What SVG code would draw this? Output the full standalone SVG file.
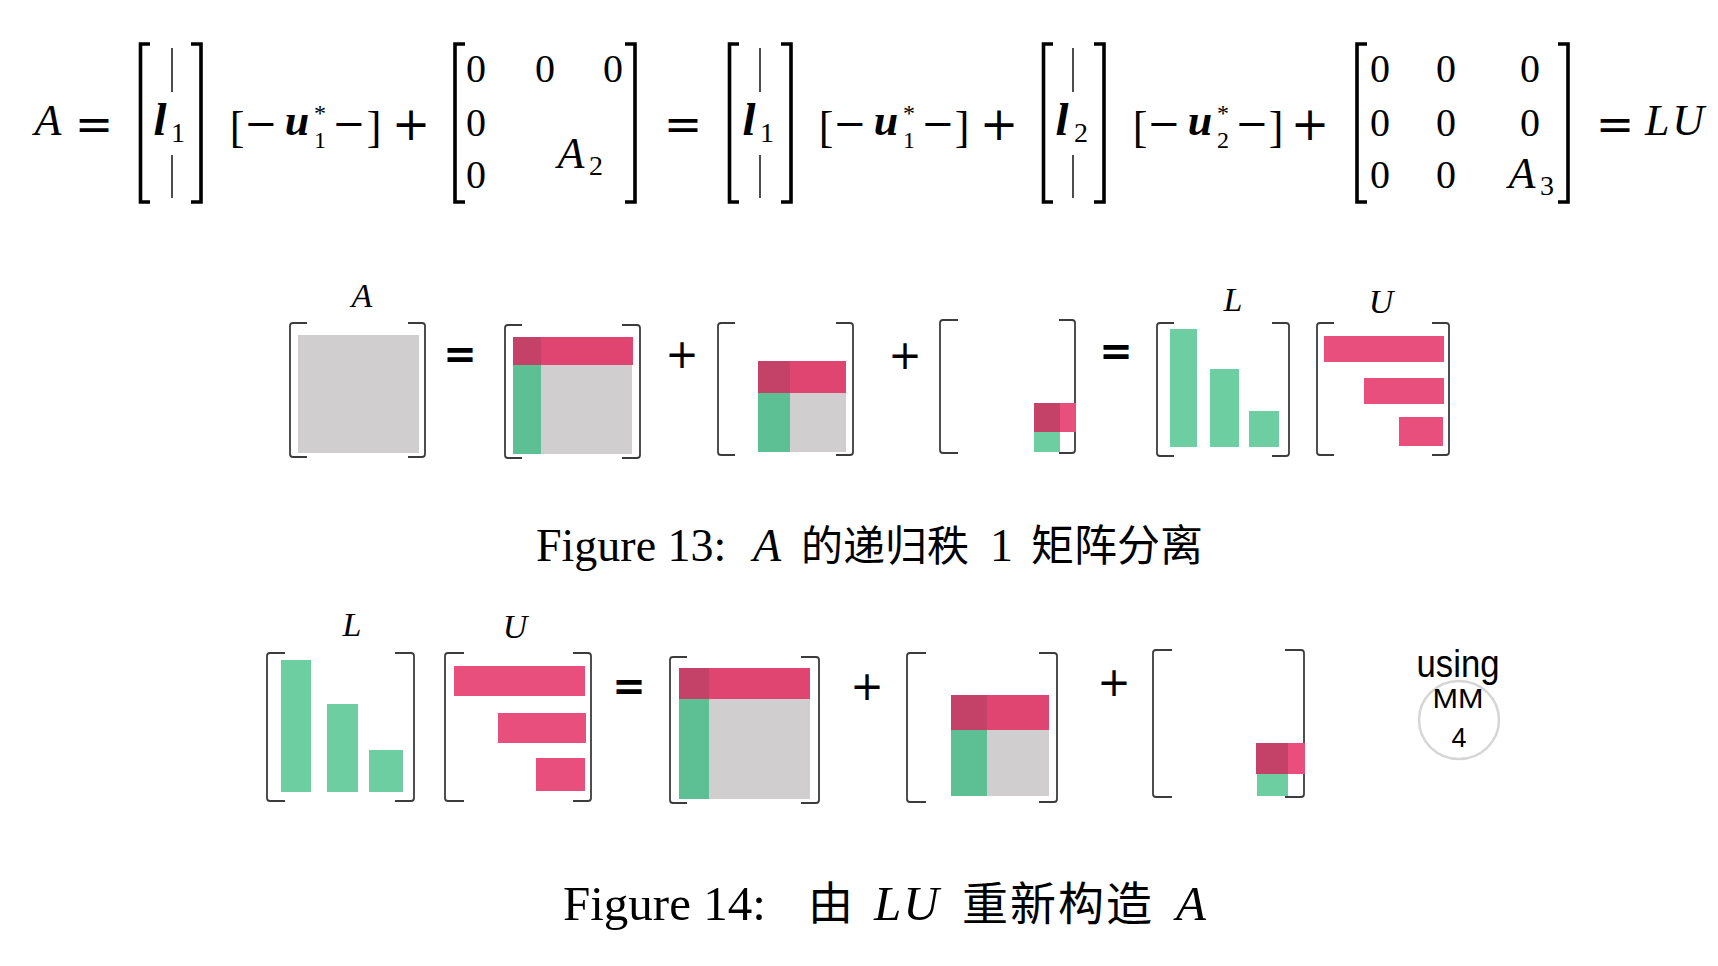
<svg xmlns="http://www.w3.org/2000/svg" width="1718" height="966" viewBox="0 0 1718 966">
<style>
.m{font-family:'Liberation Serif',serif;font-size:40px;fill:#000;text-anchor:middle}
.mi{font-style:italic;font-size:44px}
.bi{font-style:italic;font-weight:bold;font-size:44px}
.lg{font-size:47px}
.sub{font-size:28px;font-style:normal;font-weight:normal}
.ss{font-size:24px;font-style:normal;font-weight:normal}
.bk{font-size:44px}
.mn{font-family:'DejaVu Serif',serif;font-size:40px}
.op{font-family:'DejaVu Serif',serif;font-size:46px;fill:#000;text-anchor:middle}
.tb{fill:none;stroke:#000;stroke-width:3.6}
.bar{stroke:#000;stroke-width:1.4}
.br{fill:none;stroke:#3c3c3c;stroke-width:1.8}
.gray{fill:#d0cece}
.pk{fill:#e04571}
.pkp{fill:#e84f7d}
.dk{fill:#c44168}
.gr{fill:#5dbf94}
.grp{fill:#6dcea2}
.lab{font-family:'Liberation Serif',serif;font-style:italic;font-size:34px;fill:#000;text-anchor:middle}
.sop{font-family:'DejaVu Sans',sans-serif;font-size:40px;fill:#000;text-anchor:middle}
.seq{font-weight:bold}
.cap{font-family:'Liberation Serif','Noto Sans CJK SC',serif;fill:#000}
.cjk{font-family:'Noto Sans CJK SC',sans-serif;fill:#000}
.sans{font-family:'Liberation Sans',sans-serif;fill:#000;text-anchor:middle}
</style>
<rect x="0" y="0" width="1718" height="966" fill="#fff"/>

<g id="equation">
  <text class="m mi" x="48" y="135">A</text>
  <text class="op" x="94" y="140">=</text>
  <g id="col-l1-a">
    <path class="tb" d="M150,44 H140.5 V202 H150"/>
    <path class="tb" d="M191,44 H201 V202 H191"/>
    <line class="bar" x1="172" y1="48" x2="172" y2="92"/>
    <line class="bar" x1="172" y1="155" x2="172" y2="198"/>
    <text class="m"><tspan class="bi lg" x="160" y="135">l</tspan><tspan class="sub" x="178" y="142">1</tspan></text>
  </g>
  <g id="row-u1-a">
    <text class="m"><tspan class="bk" x="237" y="142">[</tspan><tspan class="mn" x="261" y="137">−</tspan><tspan class="bi" x="297" y="135">u</tspan><tspan class="ss" x="320" y="121">*</tspan><tspan class="ss" x="320" y="148">1</tspan><tspan class="mn" x="349" y="137">−</tspan><tspan class="bk" x="374" y="142">]</tspan></text>
  </g>
  <text class="op" x="411" y="140">+</text>
  <g id="mat-a2">
    <path class="tb" d="M465,44 H455 V202 H465"/>
    <path class="tb" d="M625,44 H635 V202 H625"/>
    <text class="m" x="476" y="82">0</text>
    <text class="m" x="545" y="82">0</text>
    <text class="m" x="613" y="82">0</text>
    <text class="m" x="476" y="136">0</text>
    <text class="m" x="476" y="188">0</text>
    <text class="m"><tspan class="mi" x="571" y="168">A</tspan><tspan class="sub" x="596" y="175">2</tspan></text>
  </g>
  <text class="op" x="683" y="140">=</text>
  <g id="col-l1-b">
    <path class="tb" d="M739,44 H729.5 V202 H739"/>
    <path class="tb" d="M781,44 H791 V202 H781"/>
    <line class="bar" x1="760" y1="48" x2="760" y2="92"/>
    <line class="bar" x1="760" y1="155" x2="760" y2="198"/>
    <text class="m"><tspan class="bi lg" x="749" y="135">l</tspan><tspan class="sub" x="767" y="142">1</tspan></text>
  </g>
  <g id="row-u1-b">
    <text class="m"><tspan class="bk" x="826" y="142">[</tspan><tspan class="mn" x="850" y="137">−</tspan><tspan class="bi" x="886" y="135">u</tspan><tspan class="ss" x="909" y="121">*</tspan><tspan class="ss" x="909" y="148">1</tspan><tspan class="mn" x="938" y="137">−</tspan><tspan class="bk" x="962" y="142">]</tspan></text>
  </g>
  <text class="op" x="999" y="140">+</text>
  <g id="col-l2">
    <path class="tb" d="M1053,44 H1043.5 V202 H1053"/>
    <path class="tb" d="M1094,44 H1104 V202 H1094"/>
    <line class="bar" x1="1073" y1="48" x2="1073" y2="92"/>
    <line class="bar" x1="1073" y1="155" x2="1073" y2="198"/>
    <text class="m"><tspan class="bi lg" x="1062" y="135">l</tspan><tspan class="sub" x="1081" y="142">2</tspan></text>
  </g>
  <g id="row-u2">
    <text class="m"><tspan class="bk" x="1140" y="142">[</tspan><tspan class="mn" x="1164" y="137">−</tspan><tspan class="bi" x="1200" y="135">u</tspan><tspan class="ss" x="1223" y="121">*</tspan><tspan class="ss" x="1223" y="148">2</tspan><tspan class="mn" x="1252" y="137">−</tspan><tspan class="bk" x="1276" y="142">]</tspan></text>
  </g>
  <text class="op" x="1310" y="140">+</text>
  <g id="mat-a3">
    <path class="tb" d="M1367,44 H1357 V202 H1367"/>
    <path class="tb" d="M1558,44 H1568 V202 H1558"/>
    <text class="m" x="1380" y="82">0</text>
    <text class="m" x="1446" y="82">0</text>
    <text class="m" x="1530" y="82">0</text>
    <text class="m" x="1380" y="136">0</text>
    <text class="m" x="1446" y="136">0</text>
    <text class="m" x="1530" y="136">0</text>
    <text class="m" x="1380" y="188">0</text>
    <text class="m" x="1446" y="188">0</text>
    <text class="m"><tspan class="mi" x="1522" y="188">A</tspan><tspan class="sub" x="1547" y="195">3</tspan></text>
  </g>
  <text class="op" x="1615" y="140">=</text>
  <text class="m mi" x="1676" y="135" letter-spacing="3">LU</text>
</g>

<g id="figure13">
  <g id="f13-A">
    <text class="lab" x="362" y="307">A</text>
    <rect class="gray" x="298" y="335" width="121" height="118"/>
    <path class="br" d="M307,323 H293 Q290,323 290,326 V454 Q290,457 293,457 H307"/>
    <path class="br" d="M408,323 H422 Q425,323 425,326 V454 Q425,457 422,457 H408"/>
  </g>
  <text class="sop seq" x="460" y="368">=</text>
  <g id="f13-m1">
    <rect class="gray" x="541" y="365" width="91" height="89"/>
    <rect class="gr" x="513" y="365" width="28" height="89"/>
    <rect class="pk" x="541" y="337" width="92" height="28"/>
    <rect class="dk" x="513" y="337" width="28" height="28"/>
    <path class="br" d="M522,325 H508 Q505,325 505,328 V455 Q505,458 508,458 H522"/>
    <path class="br" d="M622,325 H637 Q640,325 640,328 V455 Q640,458 637,458 H622"/>
  </g>
  <text class="sop" x="682" y="368">+</text>
  <g id="f13-m2">
    <rect class="gray" x="790" y="393" width="56" height="59"/>
    <rect class="gr" x="758" y="393" width="32" height="59"/>
    <rect class="pk" x="790" y="361" width="56" height="32"/>
    <rect class="dk" x="758" y="361" width="32" height="32"/>
    <path class="br" d="M735,323 H721 Q718,323 718,326 V452 Q718,455 721,455 H735"/>
    <path class="br" d="M836,323 H850 Q853,323 853,326 V452 Q853,455 850,455 H836"/>
  </g>
  <text class="sop" x="905" y="369">+</text>
  <g id="f13-m3">
    <path class="br" d="M958,320 H943 Q940,320 940,323 V450 Q940,453 943,453 H958"/>
    <path class="br" d="M1059,320 H1072 Q1075,320 1075,323 V450 Q1075,453 1072,453 H1059"/>
    <rect class="grp" x="1034" y="432" width="26" height="20"/>
    <rect class="pkp" x="1060" y="403" width="16" height="29"/>
    <rect class="dk" x="1034" y="403" width="26" height="29"/>
  </g>
  <text class="sop seq" x="1116" y="365">=</text>
  <g id="f13-L">
    <text class="lab" x="1233" y="311">L</text>
    <rect class="grp" x="1170" y="329" width="27" height="118"/>
    <rect class="grp" x="1210" y="369" width="29" height="78"/>
    <rect class="grp" x="1249" y="411" width="30" height="36"/>
    <path class="br" d="M1174,323 H1160 Q1157,323 1157,326 V453 Q1157,456 1160,456 H1174"/>
    <path class="br" d="M1272,323 H1286 Q1289,323 1289,326 V453 Q1289,456 1286,456 H1272"/>
  </g>
  <g id="f13-U">
    <text class="lab" x="1381" y="313">U</text>
    <rect class="pkp" x="1324" y="336" width="120" height="26"/>
    <rect class="pkp" x="1364" y="378" width="80" height="26"/>
    <rect class="pkp" x="1399" y="417" width="44" height="29"/>
    <path class="br" d="M1334,323 H1320 Q1317,323 1317,326 V452 Q1317,455 1320,455 H1334"/>
    <path class="br" d="M1432,323 H1446 Q1449,323 1449,326 V452 Q1449,455 1446,455 H1432"/>
  </g>
</g>

<g id="caption13">
  <text class="cap" x="536" y="561" font-size="46">Figure 13:</text>
  <text class="cap" x="753" y="561" font-size="46" font-style="italic">A</text>
  <text class="cjk" x="801" y="561" font-size="42">的递归秩</text>
  <text class="cap" x="990" y="561" font-size="46">1</text>
  <text class="cjk" x="1031" y="561" font-size="43">矩阵分离</text>
</g>

<g id="figure14">
  <g id="f14-L">
    <text class="lab" x="352" y="636">L</text>
    <rect class="grp" x="281" y="660" width="30" height="132"/>
    <rect class="grp" x="327" y="704" width="31" height="88"/>
    <rect class="grp" x="369" y="750" width="34" height="42"/>
    <path class="br" d="M285,653 H270 Q267,653 267,656 V798 Q267,801 270,801 H285"/>
    <path class="br" d="M395,653 H411 Q414,653 414,656 V798 Q414,801 411,801 H395"/>
  </g>
  <g id="f14-U">
    <text class="lab" x="515" y="638">U</text>
    <rect class="pkp" x="454" y="666" width="131" height="30"/>
    <rect class="pkp" x="498" y="713" width="88" height="30"/>
    <rect class="pkp" x="536" y="758" width="49" height="33"/>
    <path class="br" d="M464,653 H448 Q445,653 445,656 V798 Q445,801 448,801 H464"/>
    <path class="br" d="M573,653 H588 Q591,653 591,656 V798 Q591,801 588,801 H573"/>
  </g>
  <text class="sop seq" x="629" y="700">=</text>
  <g id="f14-m1">
    <rect class="gray" x="709" y="699" width="101" height="100"/>
    <rect class="gr" x="679" y="699" width="30" height="100"/>
    <rect class="pk" x="709" y="668" width="101" height="31"/>
    <rect class="dk" x="679" y="668" width="30" height="31"/>
    <path class="br" d="M687,657 H673 Q670,657 670,660 V800 Q670,803 673,803 H687"/>
    <path class="br" d="M801,657 H816 Q819,657 819,660 V800 Q819,803 816,803 H801"/>
  </g>
  <text class="sop" x="867" y="700">+</text>
  <g id="f14-m2">
    <rect class="gray" x="987" y="730" width="62" height="66"/>
    <rect class="gr" x="951" y="730" width="36" height="66"/>
    <rect class="pk" x="987" y="695" width="62" height="35"/>
    <rect class="dk" x="951" y="695" width="36" height="35"/>
    <path class="br" d="M926,653 H910 Q907,653 907,656 V799 Q907,802 910,802 H926"/>
    <path class="br" d="M1039,653 H1054 Q1057,653 1057,656 V799 Q1057,802 1054,802 H1039"/>
  </g>
  <text class="sop" x="1114" y="696">+</text>
  <g id="f14-m3">
    <path class="br" d="M1172,650 H1156 Q1153,650 1153,653 V794 Q1153,797 1156,797 H1172"/>
    <path class="br" d="M1285,650 H1301 Q1304,650 1304,653 V794 Q1304,797 1301,797 H1285"/>
    <rect class="grp" x="1257" y="774" width="31" height="22"/>
    <rect class="pkp" x="1288" y="743" width="17" height="31"/>
    <rect class="dk" x="1256" y="743" width="32" height="31"/>
  </g>
  <g id="using-mm4">
    <ellipse cx="1459" cy="720" rx="40" ry="39" fill="none" stroke="#d6d6d6" stroke-width="2.5"/>
    <text class="sans" x="1458" y="677" font-size="38" textLength="83" lengthAdjust="spacingAndGlyphs">using</text>
    <text class="sans" x="1458" y="708" font-size="27" textLength="51" lengthAdjust="spacingAndGlyphs">MM</text>
    <text class="sans" x="1459" y="747" font-size="27">4</text>
  </g>
</g>

<g id="caption14">
  <text class="cap" x="563" y="920" font-size="49">Figure 14:</text>
  <text class="cjk" x="808" y="920" font-size="45">由</text>
  <text class="cap" x="874" y="920" font-size="49" font-style="italic" letter-spacing="2">LU</text>
  <text class="cjk" x="962" y="920" font-size="46" letter-spacing="2">重新构造</text>
  <text class="cap" x="1176" y="920" font-size="49" font-style="italic">A</text>
</g>

<g id="connectors"/>
</svg>
